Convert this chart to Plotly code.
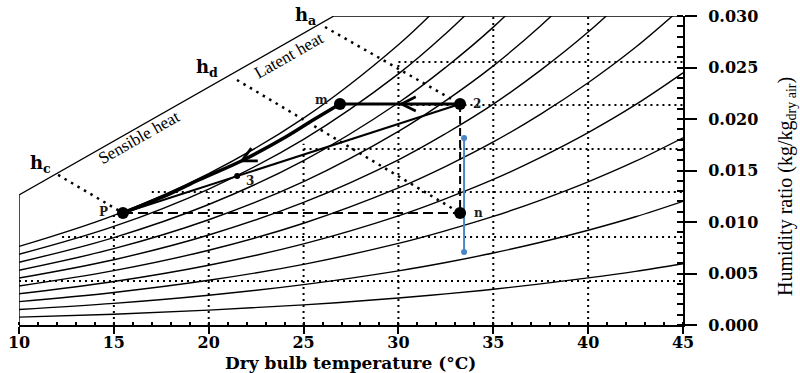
import plotly.graph_objects as go

# ---------------- data ----------------
T_grid = [10, 15, 20, 25, 30, 32.5, 35, 37.5, 40, 42.5, 45]

rh10 = [0.00076, 0.00105, 0.00144, 0.00195, 0.00262, 0.00302, 0.00347, 0.00399, 0.00457, 0.00521, 0.00595]
rh20 = [0.00151, 0.00210, 0.00289, 0.00392, 0.00526, 0.00607, 0.00699, 0.00803, 0.00920, 0.01051, 0.01201]
rh30 = [0.00227, 0.00316, 0.00434, 0.00589, 0.00792, 0.00916, 0.01054, 0.01213, 0.01390, 0.01590, 0.01818]
rh40 = [0.00303, 0.00422, 0.00580, 0.00788, 0.01060, 0.01227, 0.01413, 0.01628, 0.01868, 0.02139, 0.02448]
rh50 = [0.00379, 0.00528, 0.00726, 0.00988, 0.01331, 0.01541, 0.01777, 0.02048, 0.02352, 0.02696, 0.03091]
rh60 = [0.00456, 0.00634, 0.00874, 0.01190, 0.01604, 0.01859, 0.02144, 0.02474, 0.02844, 0.03264]
rh70 = [0.00532, 0.00741, 0.01022, 0.01392, 0.01880, 0.02179, 0.02516, 0.02906, 0.03344]
rh80 = [0.00609, 0.00849, 0.01170, 0.01596, 0.02158, 0.02503, 0.02892, 0.03343]
rh90 = [0.00686, 0.00957, 0.01320, 0.01802, 0.02438, 0.02830, 0.03273]
rh100 = [0.00763, 0.01065, 0.01470, 0.02008, 0.02721, 0.03161]
rh_curves = [rh10, rh20, rh30, rh40, rh50, rh60, rh70, rh80, rh90, rh100]

# chart outline (enthalpy scale edge)
outline_T = [10, 10, 26.6, 45]
outline_w = [0.0, 0.01262, 0.030, 0.030]

# dotted guide grid
grid_v_T = [15, 20, 25, 30, 35, 40]
grid_v_top = [0.0107, 0.0129, 0.0176, 0.0256, 0.030, 0.030]
grid_h_w = [0.00427, 0.00854, 0.01291, 0.01709, 0.02136, 0.02553]
grid_h_start = [10, 12.27, 17.0, 25, 30, 30]

# state points
state_names = ["m", "2", "n", "P", "3"]
state_T = [26.92, 33.25, 33.25, 15.48, 21.5]
state_w = [0.02146, 0.02146, 0.01087, 0.01087, 0.01446]

# thick process curve m -> P
proc_T = [26.92, 25.5, 24.1, 21.8, 19.5, 17.8, 15.48]
proc_w = [0.02146, 0.0199, 0.0183, 0.0160, 0.0141, 0.0126, 0.01087]

# enthalpy dotted lines (start on scale edge, end at state point)
enth_names = ["a", "d", "c"]
enth_start_T = [26.13, 21.49, 12.06]
enth_start_w = [0.02893, 0.02379, 0.01457]
enth_end_T = [33.25, 33.25, 15.48]
enth_end_w = [0.02146, 0.01087, 0.01087]

# blue vertical segment
blue_T = [33.46, 33.46]
blue_w = [0.00709, 0.01816]

x_ticks = [10, 15, 20, 25, 30, 35, 40, 45]
y_ticks = [0.000, 0.005, 0.010, 0.015, 0.020, 0.025, 0.030]

# ---------------- figure ----------------
fig = go.Figure()
DOT = "2px,4px"

for T, top in zip(grid_v_T, grid_v_top):
    fig.add_trace(go.Scatter(x=[T, T], y=[0, top], mode="lines",
                             line=dict(color="black", width=2, dash=DOT), hoverinfo="skip"))
for w, s in zip(grid_h_w, grid_h_start):
    fig.add_trace(go.Scatter(x=[s, 45], y=[w, w], mode="lines",
                             line=dict(color="black", width=2, dash=DOT), hoverinfo="skip"))

for c in rh_curves:
    fig.add_trace(go.Scatter(x=T_grid[:len(c)], y=c, mode="lines", line_shape="spline",
                             line=dict(color="black", width=1.4), hoverinfo="skip"))

fig.add_trace(go.Scatter(x=outline_T, y=outline_w, mode="lines",
                         line=dict(color="black", width=1.4), hoverinfo="skip"))

for i in range(len(enth_names)):
    fig.add_trace(go.Scatter(x=[enth_start_T[i], enth_end_T[i]], y=[enth_start_w[i], enth_end_w[i]],
                             mode="lines", line=dict(color="black", width=2.5, dash="2.5px,5px"),
                             hoverinfo="skip"))

# dashed lines 2 -> n and P -> n
fig.add_trace(go.Scatter(x=[state_T[1], state_T[2]], y=[state_w[1], state_w[2]], mode="lines",
                         line=dict(color="black", width=2, dash="8px,4px"), hoverinfo="skip"))
fig.add_trace(go.Scatter(x=[state_T[3], state_T[2]], y=[state_w[3], state_w[2]], mode="lines",
                         line=dict(color="black", width=2, dash="10px,5px"), hoverinfo="skip"))

# thin straight line 2 -> P
fig.add_trace(go.Scatter(x=[state_T[1], state_T[3]], y=[state_w[1], state_w[3]], mode="lines",
                         line=dict(color="black", width=2), hoverinfo="skip"))
# thick m -> 2
fig.add_trace(go.Scatter(x=[state_T[0], state_T[1]], y=[state_w[0], state_w[1]], mode="lines",
                         line=dict(color="black", width=3), hoverinfo="skip"))
# thick curve m -> P
fig.add_trace(go.Scatter(x=proc_T, y=proc_w, mode="lines", line_shape="spline",
                         line=dict(color="black", width=3.5), hoverinfo="skip"))

# blue segment
fig.add_trace(go.Scatter(x=blue_T, y=blue_w, mode="lines+markers",
                         line=dict(color="#4a86c5", width=2),
                         marker=dict(color="#4a86c5", size=6), hoverinfo="skip"))

# state markers
fig.add_trace(go.Scatter(x=state_T[:4], y=state_w[:4], mode="markers",
                         marker=dict(color="black", size=12), hoverinfo="skip"))
fig.add_trace(go.Scatter(x=[state_T[4]], y=[state_w[4]], mode="markers",
                         marker=dict(color="black", size=6), hoverinfo="skip"))

ann = []
# arrows
ann.append(dict(x=30.0, y=state_w[0], ax=31.0, ay=state_w[0], xref="x", yref="y", axref="x", ayref="y",
                text="", showarrow=True, arrowhead=5, arrowsize=1.4, arrowwidth=2, arrowcolor="black"))
ann.append(dict(x=21.6, y=0.0158, ax=22.3, ay=0.01645, xref="x", yref="y", axref="x", ayref="y",
                text="", showarrow=True, arrowhead=5, arrowsize=1.4, arrowwidth=2, arrowcolor="black"))

lab_font = dict(family="DejaVu Serif", size=12, color="#1a1a1a")
label_pos = {"m": (25.97, 0.02185), "2": (34.14, 0.02146), "n": (34.2, 0.01087),
             "P": (14.48, 0.01097), "3": (22.18, 0.01398)}
for name in state_names:
    lx, ly = label_pos[name]
    ann.append(dict(x=lx, y=ly, xref="x", yref="y", text="<b>%s</b>" % name, showarrow=False,
                    xanchor="center", yanchor="middle", font=lab_font))

h_pos = {"a": (25.08, 0.0300), "d": (19.91, 0.02495), "c": (11.11, 0.01563)}
for name in enth_names:
    hx, hy = h_pos[name]
    ann.append(dict(x=hx, y=hy, xref="x", yref="y", text="<b>h</b><sub><b>%s</b></sub>" % name,
                    showarrow=False, xanchor="center", yanchor="middle",
                    font=dict(family="DejaVu Serif", size=18, color="black")))

ann.append(dict(x=24.23, y=0.02612, xref="x", yref="y", text="Latent heat", textangle=-29.6,
                showarrow=False, xanchor="center", yanchor="middle",
                font=dict(family="Liberation Serif", size=17, color="black")))
ann.append(dict(x=16.33, y=0.01816, xref="x", yref="y", text="Sensible heat", textangle=-29.6,
                showarrow=False, xanchor="center", yanchor="middle",
                font=dict(family="Liberation Serif", size=17, color="black")))

# axis titles
ann.append(dict(x=(350 - 19) / 664, y=(325 - 363) / 309, xref="paper", yref="paper",
                xanchor="center", yanchor="middle",
                text="<b>Dry bulb temperature (°C)</b>", showarrow=False,
                font=dict(family="DejaVu Serif", size=17, color="black")))
ann.append(dict(x=(786 - 19) / 664, y=(325 - 187) / 309, xref="paper", yref="paper",
                xanchor="center", yanchor="middle",
                text="Humidity ratio (kg/kg<sub>dry air</sub>)", textangle=-90, showarrow=False,
                font=dict(family="Liberation Serif", size=20, color="black")))

fig.update_layout(
    width=800, height=373,
    margin=dict(l=19, r=117, t=16, b=48, autoexpand=False),
    paper_bgcolor="white", plot_bgcolor="white",
    showlegend=False,
    annotations=ann,
)
fig.update_xaxes(range=[10, 45], tickvals=x_ticks, ticktext=[str(v) for v in x_ticks],
                 showgrid=False, zeroline=False, showline=True, linecolor="black", linewidth=2,
                 ticks="outside", ticklen=7, tickwidth=2, tickcolor="black",
                 ticklabelstandoff=-5, automargin=False,
                 minor=dict(ticks="inside", dtick=1, tick0=10, ticklen=3, tickwidth=2,
                            tickcolor="black", showgrid=False),
                 tickfont=dict(family="DejaVu Serif", size=16, color="black", weight="bold"))
fig.update_yaxes(range=[0, 0.030], tickvals=y_ticks, ticktext=["%.3f" % v for v in y_ticks],
                 side="right", showgrid=False, zeroline=False, showline=True, linecolor="black",
                 linewidth=2, ticks="outside", ticklen=12, tickwidth=2, tickcolor="black",
                 ticklabelstandoff=8, automargin=False,
                 minor=dict(ticks="inside", dtick=0.001, tick0=0, ticklen=6, tickwidth=1.5,
                            tickcolor="black", showgrid=False),
                 tickfont=dict(family="DejaVu Serif", size=16, color="black", weight="bold"))

fig.write_html("out.html")
